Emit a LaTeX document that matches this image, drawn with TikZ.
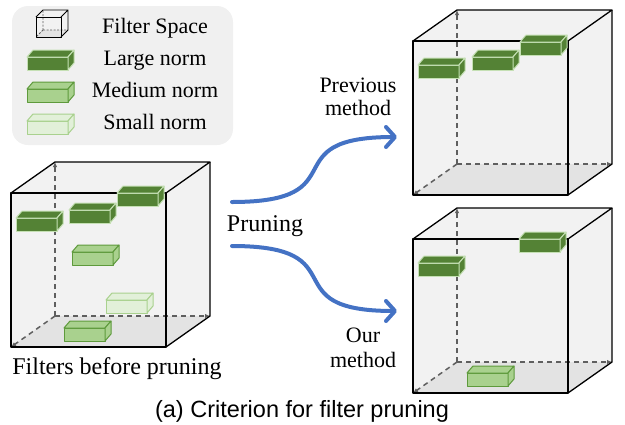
\documentclass[tikz,border=0pt]{standalone}
\usepackage{fontspec}
\setmainfont{Liberation Serif}
\setsansfont{Liberation Sans}
\usetikzlibrary{arrows.meta}
\definecolor{bigG}{HTML}{548235}
\definecolor{bigE}{HTML}{C5E0B4}
\definecolor{midG}{HTML}{A9D18E}
\definecolor{midE}{HTML}{5E9A3C}
\definecolor{smlG}{HTML}{E2F0D9}
\definecolor{smlE}{HTML}{A9D18E}
\definecolor{cubeF}{HTML}{F2F2F2}
\definecolor{floorF}{HTML}{E3E3E3}
\definecolor{axisC}{HTML}{5F5F5F}
\definecolor{legbg}{HTML}{F0F0F0}
\definecolor{arrB}{HTML}{4472C4}
\tikzset{
  large/.style={fill=bigG, draw=bigE, line width=1pt, line join=round},
  medium/.style={fill=midG, draw=midE, line width=1pt, line join=round},
  small/.style={fill=smlG, draw=smlE, line width=1pt, line join=round},
  edge/.style={draw=black, line width=1.3pt, line join=round},
  axis/.style={draw=axisC, line width=1.5pt, dash pattern=on 5pt off 4pt, -{Latex[length=5pt,width=4.5pt]}},
  flow/.style={draw=arrB, line width=4pt, line cap=round, -{Straight Barb[length=9pt,width=20pt,line cap=round,line join=round]}},
  lbl/.style={inner sep=0pt, anchor=base, font=\fontsize{22}{26}\selectfont},
  lblb/.style={inner sep=0pt, anchor=base, font=\fontsize{24}{28}\selectfont},
}
% filter box: style, front top-left x, y
\newcommand{\filt}[3]{%
  \begin{scope}[shift={(#2,#3)}]
    \filldraw[#1] (0,0) rectangle (41,13);
    \filldraw[#1] (0,0) -- (6,-7) -- (47,-7) -- (41,0) -- cycle;
    \filldraw[#1] (41,0) -- (47,-7) -- (47,6) -- (41,13) -- cycle;
  \end{scope}}
% filter space cube: front top-left x, y
\newcommand{\fspace}[2]{%
  \begin{scope}[shift={(#1,#2)}]
    \fill[cubeF] (0,154) -- (0,0) -- (44,-31) -- (199,-31) -- (199,123) -- (155,154) -- cycle;
    \fill[floorF] (0,154) -- (44,123) -- (199,123) -- (155,154) -- cycle;
    \draw[axis] (44,123) -- (44,-31);
    \draw[axis] (44,123) -- (199,123);
    \draw[axis] (44,123) -- (0,154);
    \draw[edge] (0,0) rectangle (155,154);
    \draw[edge] (0,0) -- (44,-31) -- (199,-31) -- (155,0);
    \draw[edge] (199,-31) -- (199,123) -- (155,154);
  \end{scope}}
\begin{document}
\begin{tikzpicture}[x=1pt,y=-1pt]
\useasboundingbox (0,0) rectangle (625,424);
% legend
\fill[legbg, rounded corners=16pt] (12,6) rectangle (233,145);
\begin{scope}[shift={(36,17)}]
  \fill[cubeF] (0,20) -- (0,0) -- (7,-7) -- (32,-7) -- (32,13) -- (25,20) -- cycle;
  \fill[floorF] (0,20) -- (7,13) -- (32,13) -- (25,20) -- cycle;
  \draw[axisC, line width=0.8pt, dash pattern=on 2pt off 1.5pt] (7,13) -- (7,-7) (7,13) -- (32,13) (7,13) -- (0,20);
  \draw[edge, line width=0.9pt] (0,0) rectangle (25,20);
  \draw[edge, line width=0.9pt] (0,0) -- (7,-7) -- (32,-7) -- (25,0) (32,-7) -- (32,13) -- (25,20);
\end{scope}
\filt{large}{27}{57}
\filt{medium}{27}{89}
\filt{small}{27}{121}
\node[lbl] (tspace) at (155,33) {Filter Space};
\node[lbl] (tlarge) at (155,65) {Large norm};
\node[lbl] (tmed) at (155,97) {Medium norm};
\node[lbl] (tsmall) at (155,129) {Small norm};
% left cube
\fspace{11}{193}
\filt{large}{16}{218}
\filt{large}{69}{210}
\filt{large}{117}{193}
\filt{medium}{72}{252}
\filt{small}{106}{300}
\filt{medium}{64}{328}
\node[lblb] (tbefore) at (117,374) {Filters before pruning};
% top right cube
\fspace{413}{41}
\filt{large}{418}{65}
\filt{large}{472}{57}
\filt{large}{520}{42}
% bottom right cube
\fspace{413}{239}
\filt{large}{418}{263}
\filt{large}{519}{239}
\filt{medium}{467}{373}
% arrows
\coordinate (a1s) at (232,202);
\coordinate (a1e) at (397,137);
\coordinate (a2s) at (232,246);
\coordinate (a2e) at (397,311);
\draw[flow] (a1s) .. controls (360,202) and (270,137) .. (a1e);
\draw[flow] (a2s) .. controls (360,246) and (270,311) .. (a2e);
\node[lblb] (tprun) at (265,231) {Pruning};
\node[lbl] (tprev1) at (358,92) {Previous};
\node[lbl] (tprev2) at (358,115) {method};
\node[lbl] (tour1) at (363,342) {Our};
\node[lbl] (tour2) at (363,367) {method};
\node[inner sep=0pt, anchor=base, font=\sffamily\fontsize{23.5}{27}\selectfont] (cap) at (302,417) {(a) Criterion for filter pruning};
\end{tikzpicture}
\end{document}
